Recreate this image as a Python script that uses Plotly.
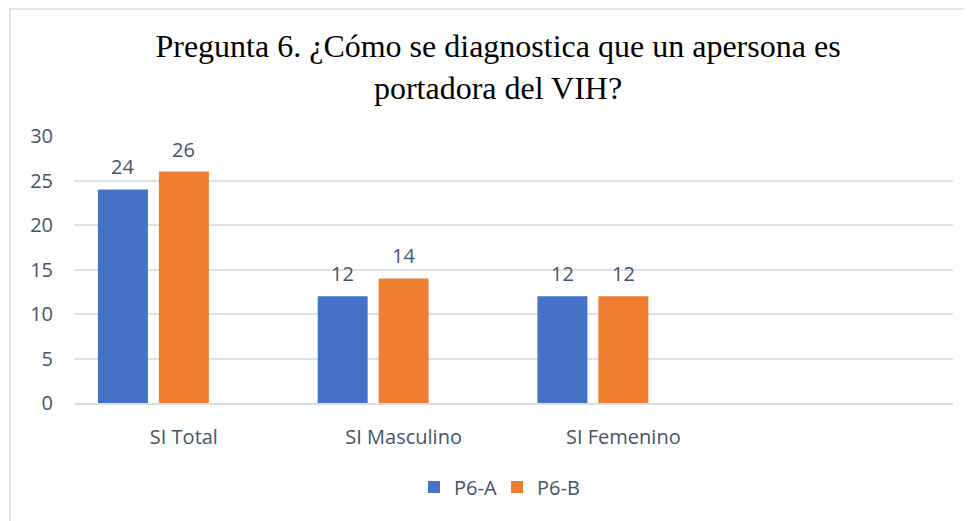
import plotly.graph_objects as go

categories = ["SI Total", "SI Masculino", "SI Femenino"]
series_a = [24, 12, 12]
series_b = [26, 14, 12]
series_names = ["P6-A", "P6-B"]
colors = ["#4472c4", "#ed7d31"]
title_text = "Pregunta 6. ¿Cómo se diagnostica que un apersona es<br>portadora del VIH?"

TXT = "#44546a"
FONT = "Open Sans"
W, H = 964, 513  # page has an 8px body margin
BARGAP = 0.168
N_SLOTS = 3  # the original chart reserves a third (empty) series slot

fig = go.Figure()
for name, vals, col in zip(series_names, [series_a, series_b], colors):
    fig.add_trace(go.Bar(x=categories, y=vals, name=name,
                         marker=dict(color=col, line=dict(width=0))))
fig.add_trace(go.Bar(x=categories, y=[None] * len(categories), showlegend=False, hoverinfo="skip"))

# data labels, placed from the data and the bar grouping
group_w = 1 - BARGAP
slot = group_w / N_SLOTS
for i, vals in enumerate([series_a, series_b]):
    for k, v in enumerate(vals):
        fig.add_annotation(x=k - group_w / 2 + (i + 0.5) * slot, y=v, xref="x", yref="y",
                           text=str(v), showarrow=False, yanchor="bottom", yshift=7,
                           font=dict(family=FONT, size=20, color=TXT))

fig.update_layout(
    width=W, height=H,
    margin=dict(l=66, r=19, t=128, b=118),
    paper_bgcolor="white", plot_bgcolor="white",
    barmode="group", bargap=BARGAP, bargroupgap=0.18,
    title=dict(text=title_text, x=490 / W, xanchor="center", y=1 - 49 / H, yanchor="top",
               yref="container",
               font=dict(family="Liberation Serif", size=32, color="#000000")),
    xaxis=dict(range=[-0.5, 3.5], showgrid=False, showline=True, linecolor="#d9dee5", linewidth=1.5,
               ticks="", tickfont=dict(family=FONT, size=20, color=TXT), ticklabelstandoff=15),
    yaxis=dict(range=[0, 30], dtick=5, showgrid=True, gridcolor="#dde2e8", gridwidth=1.5,
               zeroline=False, ticks="", tickfont=dict(family=FONT, size=20, color=TXT),
               ticklabelstandoff=20),
    legend=dict(orientation="h", x=(497 - 74) / 879, xanchor="center", y=(403 - 487) / 267,
                yanchor="middle", font=dict(family=FONT, size=20, color=TXT),
                itemwidth=30, entrywidth=38, entrywidthmode="pixels", traceorder="normal"),
    showlegend=True,
)
fig.add_shape(type="rect", xref="paper", yref="paper",
              x0=(2 - 66) / 879, x1=1.2, y0=-1.0, y1=(395 - 1) / 267,
              line=dict(color="#d9dee5", width=1.5), fillcolor="rgba(0,0,0,0)", layer="below")

fig.write_html("out.html")
